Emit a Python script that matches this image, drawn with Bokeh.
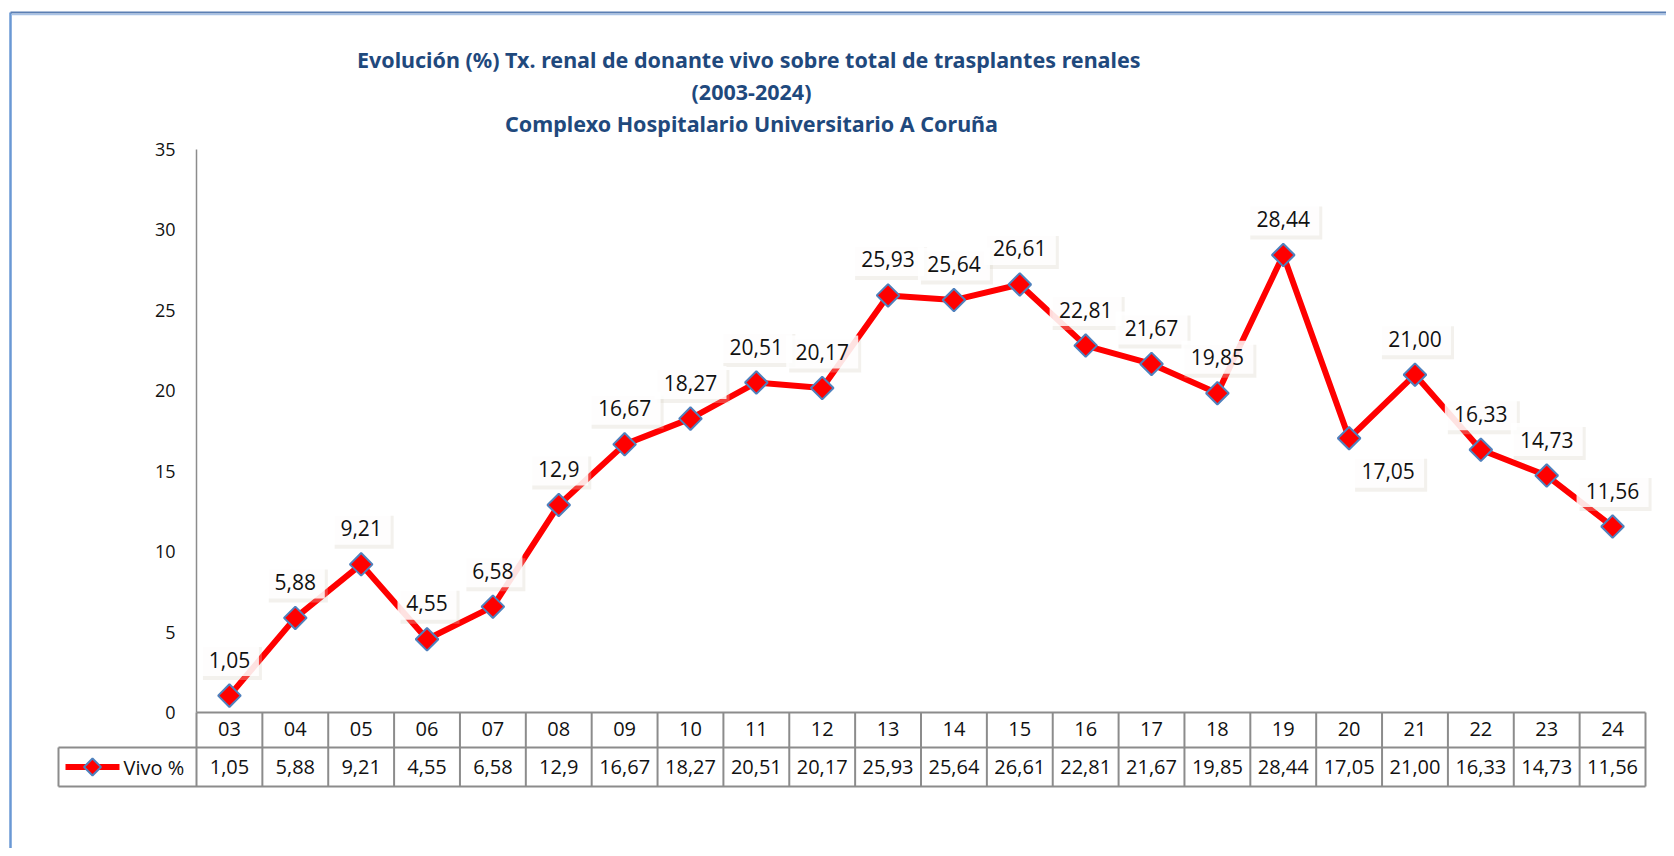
import math
from bokeh.plotting import figure
from bokeh.models import Range1d, LinearAxis, FixedTicker
from bokeh.core.properties import value
from bokeh.embed import file_html
from bokeh.resources import INLINE

# ---------------- data ----------------
years = ["03", "04", "05", "06", "07", "08", "09", "10", "11", "12", "13",
         "14", "15", "16", "17", "18", "19", "20", "21", "22", "23", "24"]
vivo = [1.05, 5.88, 9.21, 4.55, 6.58, 12.9, 16.67, 18.27, 20.51, 20.17, 25.93,
        25.64, 26.61, 22.81, 21.67, 19.85, 28.44, 17.05, 21.00, 16.33, 14.73, 11.56]
vivo_text = ["1,05", "5,88", "9,21", "4,55", "6,58", "12,9", "16,67", "18,27",
             "20,51", "20,17", "25,93", "25,64", "26,61", "22,81", "21,67",
             "19,85", "28,44", "17,05", "21,00", "16,33", "14,73", "11,56"]
label_below = ["20"]
y_ticks = [0, 5, 10, 15, 20, 25, 30, 35]
series_name = "Vivo %"
title_lines = ["Evolución (%) Tx. renal de donante vivo sobre total  de trasplantes renales",
               "(2003-2024)",
               "Complexo Hospitalario Universitario A Coruña"]

# ---------------- layout (canvas px) ----------------
W, H = 1666, 848
AXIS_X, RIGHT_X, LEG_X = 196, 1645, 58
Y35, Y0, HEAD_B, TAB_B = 149, 712, 747, 786
BOX_L, BOX_T = 10, 12
YMAX = 35
FONT = "Open Sans"
GRAY = "#8C8C8C"
RED = "#FF0000"
EDGE = "#4F81BD"
TITLE_C = "#1F497D"

n = len(years)
ppx = (RIGHT_X - AXIS_X) / n
ppu = (Y0 - Y35) / YMAX


def dx(px):
    return (px - AXIS_X) / ppx - 0.5


def dy(py):
    return (Y0 - py) / ppu


xs = list(range(n))

p = figure(width=W, height=H, output_backend="svg", toolbar_location=None,
           x_axis_location=None, y_axis_location=None,
           x_range=Range1d(dx(0), dx(W)), y_range=Range1d(dy(H), dy(0)),
           min_border_left=0, min_border_right=0, min_border_top=0, min_border_bottom=0)
p.outline_line_color = None
p.background_fill_color = "white"
p.border_fill_color = "white"
p.grid.visible = False

# ---------------- axes ----------------
yax = LinearAxis(fixed_location=-0.5, bounds=(0, YMAX), ticker=FixedTicker(ticks=y_ticks))
yax.axis_line_color = GRAY
yax.axis_line_width = 1.5
yax.major_tick_in = 0
yax.major_tick_out = 0
yax.minor_tick_line_color = None
yax.major_label_standoff = 21
yax.major_label_text_font = FONT
yax.major_label_text_font_size = "18px"
yax.major_label_text_color = "#111111"
p.add_layout(yax, "left")

xax = LinearAxis(fixed_location=0, bounds=(-0.5, n - 0.5), ticker=FixedTicker(ticks=xs),
                 major_label_overrides={i: y for i, y in zip(xs, years)})
xax.axis_line_color = GRAY
xax.axis_line_width = 2
xax.major_tick_in = 0
xax.major_tick_out = 0
xax.minor_tick_line_color = None
xax.major_label_standoff = 9
xax.major_label_text_font = FONT
xax.major_label_text_font_size = "20px"
xax.major_label_text_color = "#111111"
p.add_layout(xax, "below")

# ---------------- outer frame ----------------
p.segment(x0=[dx(BOX_L)], y0=[dy(BOX_T)], x1=[dx(BOX_L)], y1=[dy(H)],
          line_color="#6A98D4", line_width=2.5)
p.segment(x0=[dx(BOX_L)], y0=[dy(BOX_T)], x1=[dx(W)], y1=[dy(BOX_T)],
          line_color="#5B7FB3", line_width=2)
p.segment(x0=[dx(BOX_L + 1)], y0=[dy(BOX_T + 2)], x1=[dx(W)], y1=[dy(BOX_T + 2)],
          line_color="#A9C3E6", line_width=1.5)

# ---------------- title ----------------
for k, t in enumerate(title_lines):
    p.text(x=[dx(751)], y=[dy(59 + 32 * k)], text=[t], text_font=value("Noto Sans"),
           text_font_style="bold", text_font_size="21.5px", text_color=TITLE_C,
           text_align="center", text_baseline="middle")

# ---------------- series ----------------
p.line(xs, vivo, line_color=RED, line_width=6)

lab_x, lab_y, lab_w = [], [], []
for i, (v, t, yr) in enumerate(zip(vivo, vivo_text, years)):
    if yr in label_below:
        lab_x.append(i + 39 / ppx)
        lab_y.append(v - 33 / ppu)
    else:
        lab_x.append(i)
        lab_y.append(v + 36 / ppu)
    lab_w.append(13 * len(t) + 7)

p.rect([x + 3 / ppx for x in lab_x], [y - 4 / ppu for y in lab_y], width=lab_w, height=33,
       width_units="screen", height_units="screen", fill_color="#D8D2C4", fill_alpha=0.3,
       line_color=None)
p.rect(lab_x, lab_y, width=lab_w, height=33, width_units="screen", height_units="screen",
       fill_color="white", fill_alpha=0.85, line_color=None)

p.scatter(xs, vivo, marker="square", angle=math.pi / 4, size=16, fill_color=RED,
          line_color=EDGE, line_width=2)

p.text(lab_x, lab_y, text=vivo_text, text_font=value(FONT), text_font_size="21px",
       text_color="#111111", text_align="center", text_baseline="middle")

# ---------------- data table ----------------
ROW_MID = (HEAD_B + TAB_B) / 2
vx0 = [i - 0.5 for i in range(n + 1)]
p.segment(x0=vx0, y0=[dy(TAB_B)] * (n + 1), x1=vx0, y1=[0] * (n + 1),
          line_color=GRAY, line_width=2)
p.segment(x0=[dx(LEG_X)] * 2 + [dx(LEG_X)], y0=[dy(HEAD_B), dy(TAB_B), dy(HEAD_B)],
          x1=[n - 0.5, n - 0.5, dx(LEG_X)], y1=[dy(HEAD_B), dy(TAB_B), dy(TAB_B)],
          line_color=GRAY, line_width=2)

p.text(xs, [dy(ROW_MID)] * n, text=vivo_text, text_font=value(FONT), text_font_size="20px",
       text_color="#111111", text_align="center", text_baseline="middle")

# legend key
p.line([dx(65), dx(119)], [dy(ROW_MID)] * 2, line_color=RED, line_width=6)
p.scatter([dx(92)], [dy(ROW_MID)], marker="square", angle=math.pi / 4, size=12,
          fill_color=RED, line_color=EDGE, line_width=2)
p.text([dx(123)], [dy(ROW_MID)], text=[series_name], text_font=value(FONT),
       text_font_size="20px", text_color="#111111", text_align="left", text_baseline="middle")

open("out.html", "w").write(file_html(p, INLINE))
